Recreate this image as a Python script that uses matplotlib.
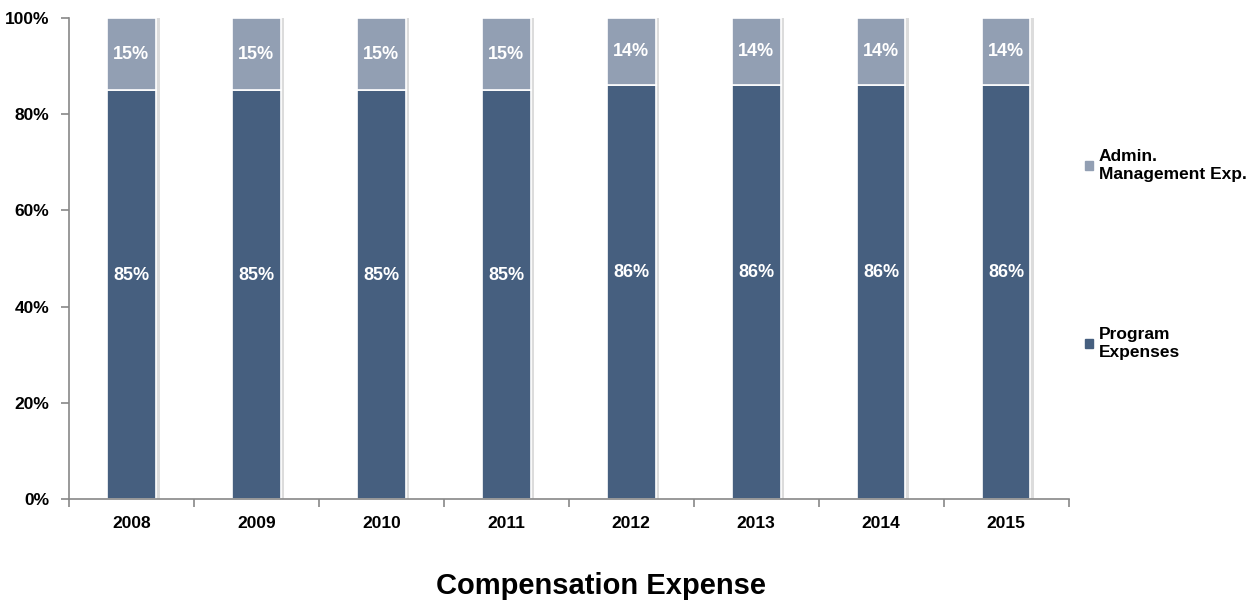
import matplotlib

matplotlib.use("Agg")

import matplotlib.pyplot as plt
import matplotlib.patches as mpatches
import numpy as np

years = ["2008", "2009", "2010", "2011", "2012", "2013", "2014", "2015"]
program_pct = [85, 85, 85, 85, 86, 86, 86, 86]
admin_pct = [15, 15, 15, 15, 14, 14, 14, 14]

PROGRAM_COLOR = "#465f7f"
ADMIN_COLOR = "#929fb3"

plt.rcParams["font.family"] = ["Liberation Sans", "DejaVu Sans"]

fig = plt.figure(figsize=(12.58, 6.03), dpi=100)
ax = fig.add_axes([0.0548, 0.1725, 0.7946, 0.7975])

x = np.arange(len(years))
width = 0.39

# faint shadow to the right of each bar
ax.bar(x + 0.03, np.add(program_pct, admin_pct), width, color="#dcdcdc", zorder=1)
ax.bar(x, program_pct, width, color=PROGRAM_COLOR, edgecolor="white", linewidth=1.2, zorder=2)
ax.bar(x, admin_pct, width, bottom=program_pct, color=ADMIN_COLOR,
       edgecolor="white", linewidth=1.2, zorder=2)

for xi, p, a in zip(x, program_pct, admin_pct):
    ax.text(xi, p / 2 + 4, f"{p}%", ha="center", va="center", color="white",
            fontsize=13, fontweight="bold", zorder=3)
    ax.text(xi, p + a / 2, f"{a}%", ha="center", va="center", color="white",
            fontsize=13, fontweight="bold", zorder=3)

ax.set_xlim(-0.5, len(years) - 0.5)
ax.set_ylim(0, 100)
ax.set_yticks(np.arange(0, 101, 20))
ax.set_yticklabels([f"{v}%" for v in range(0, 101, 20)], fontsize=12.5, fontweight="bold")
ax.set_xticks(x)
ax.set_xticklabels(years, fontsize=12.5, fontweight="bold")
ax.set_xticks(np.arange(-0.5, len(years)), minor=True)
ax.tick_params(axis="x", which="major", length=0, pad=12)
ax.tick_params(axis="x", which="minor", length=6, color="#888888", width=1.2)
ax.tick_params(axis="y", length=6, color="#888888", width=1.2, pad=8)

for side in ("top", "right"):
    ax.spines[side].set_visible(False)
for side in ("left", "bottom"):
    ax.spines[side].set_color("#888888")
    ax.spines[side].set_linewidth(1.2)

handles = [
    mpatches.Patch(color=ADMIN_COLOR, label="Admin.\nManagement Exp."),
    mpatches.Patch(color=PROGRAM_COLOR, label="Program\nExpenses"),
]
fig.legend(handles=handles, loc="upper left", bbox_to_anchor=(0.8556, 0.767),
           frameon=False, prop={"size": 12.5, "weight": "bold"},
           handlelength=0.45, handleheight=0.45, handletextpad=0.35,
           labelspacing=8.4, borderpad=0)

fig.text(0.4777, 0.028, "Compensation Expense", ha="center", va="center",
         fontsize=21, fontweight="bold")

fig.savefig("out.png", dpi=100)
